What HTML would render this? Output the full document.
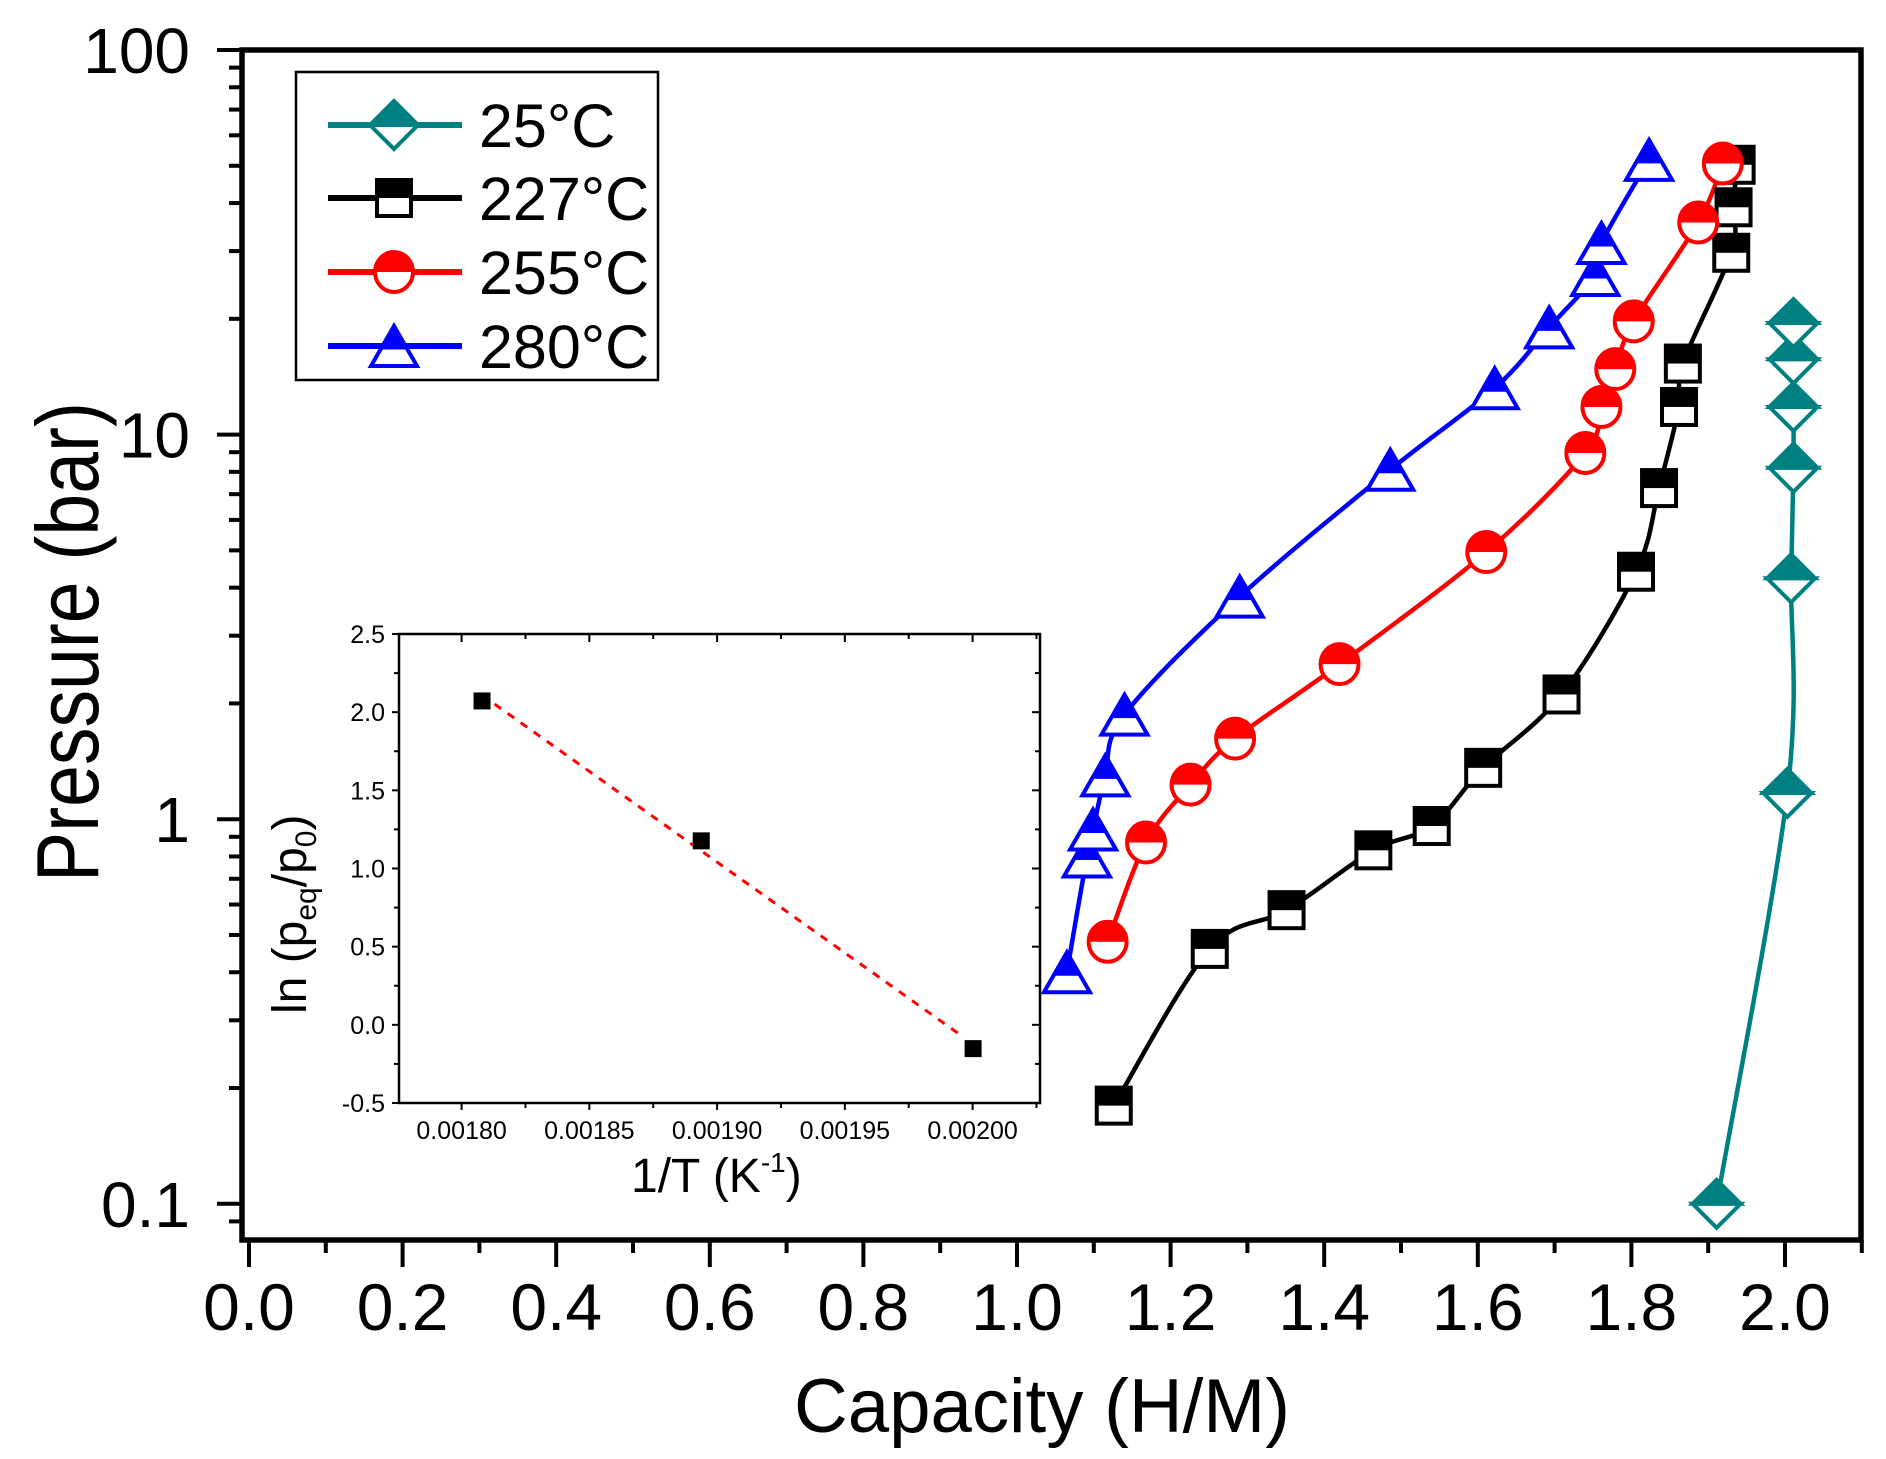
<!DOCTYPE html>
<html><head><meta charset="utf-8"><style>
html,body{margin:0;padding:0;background:#fff;}
svg{display:block;}
text{font-family:"Liberation Sans",Arial,sans-serif;fill:#000;}
</style></head><body>
<svg id="chart" width="1886" height="1459" viewBox="0 0 1886 1459" xmlns="http://www.w3.org/2000/svg">
<rect x="0" y="0" width="1886" height="1459" fill="#fff"/>
<g id="curves"></g>
<g id="markers"></g>
<g id="axes"></g>
<g id="legend"></g>
<g id="inset"></g>
</svg>
<script>
// ---- main chart data ----
const seriesNames = ["25°C","227°C","255°C","280°C"];
const seriesColors = ["#008080","#000000","#ff0000","#0000ff"];
const seriesShapes = ["diamond","square","circle","triangle"];
const x25 = [1.911,2.003,2.008,2.011,2.011,2.011,2.011];
const p25 = [0.10,1.17,4.23,8.2,11.8,15.7,19.5];
const x227 = [1.126,1.251,1.351,1.464,1.540,1.607,1.709,1.806,1.836,1.862,1.867,1.930,1.933,1.937];
const p227 = [0.18,0.46,0.58,0.83,0.96,1.36,2.11,4.4,7.26,11.8,15.3,29.7,39,50.3];
const x255 = [1.118,1.168,1.226,1.284,1.420,1.611,1.740,1.761,1.779,1.803,1.887,1.919];
const p255 = [0.48,0.87,1.23,1.62,2.53,4.95,8.96,11.8,14.8,19.7,35.6,50.7];
const x280 = [1.065,1.091,1.099,1.115,1.140,1.290,1.486,1.622,1.693,1.753,1.761,1.823];
const p280 = [0.40,0.80,0.94,1.30,1.87,3.79,8.1,13.2,19.0,26,31.5,51.8];
const xTicks = [0.0,0.2,0.4,0.6,0.8,1.0,1.2,1.4,1.6,1.8,2.0];
const xTickLabels = ["0.0","0.2","0.4","0.6","0.8","1.0","1.2","1.4","1.6","1.8","2.0"];
const yTicks = [0.1,1,10,100];
const yTickLabels = ["0.1","1","10","100"];
// ---- inset data ----
const invT = [0.0018078,0.0018936,0.0020];
const lnP = [2.075,1.18,-0.149];
const insetXTicks = [0.0018,0.00185,0.0019,0.00195,0.0020];
const insetXLabels = ["0.00180","0.00185","0.00190","0.00195","0.00200"];
const insetYTicks = [-0.5,0.0,0.5,1.0,1.5,2.0,2.5];
const insetYLabels = ["-0.5","0.0","0.5","1.0","1.5","2.0","2.5"];

const NS="http://www.w3.org/2000/svg";
function mk(tag, attrs, parent){const e=document.createElementNS(NS,tag);for(const k in attrs)e.setAttribute(k,attrs[k]);if(parent)parent.appendChild(e);return e;}

const L=242,R=1861,T=50,B=1240;
function sx(v){return 249+768*v;}
function sy(p){return 50+(2-Math.log10(p))*384.6;}

const axes=document.getElementById('axes');
const curves=document.getElementById('curves');
const markers=document.getElementById('markers');

const frame=mk('path',{d:`M${L},${T} H${R} V${B} H${L} Z`,fill:'none',stroke:'#000','stroke-width':5.5},axes);



for(let i=0;i<=21;i++){
  const v=i*0.1; const X=sx(v); const major=(i%2===0);
  const t=mk('line',{x1:X,y1:B,x2:X,y2:B+(major?27:13),stroke:'#000','stroke-width':4},axes);
  
  
}
xTicks.forEach((v,i)=>{
  const tx=mk('text',{x:sx(v),y:1330,'font-size':66,'text-anchor':'middle'},axes);
  tx.textContent=xTickLabels[i];
  
  
});
for(let d=-2;d<=1;d++){
  for(let m=1;m<=9;m++){
    const p=m*Math.pow(10,d); const Y=sy(p);
    if(Y>B||Y<T-1)continue;
    const major=(m===1);
    const t=mk('line',{x1:L,y1:Y,x2:L-(major?25:13),y2:Y,stroke:'#000','stroke-width':4},axes);
    
    
  }
}
const t100=mk('line',{x1:L,y1:sy(100),x2:L-25,y2:sy(100),stroke:'#000','stroke-width':4},axes);


yTicks.forEach((v,i)=>{
  const tx=mk('text',{x:190,y:sy(v)+23,'font-size':64,'text-anchor':'end'},axes);
  tx.textContent=yTickLabels[i];
  
  
});
const xt=mk('text',{x:794,y:1432,'font-size':76,textLength:496,lengthAdjust:'spacingAndGlyphs'},axes);
xt.textContent='Capacity (H/M)';


const yt=mk('text',{x:0,y:0,'font-size':88,textLength:480,lengthAdjust:'spacingAndGlyphs',transform:'translate(98,882) rotate(-90)'},axes);
yt.textContent='Pressure (bar)';



function smooth(pts){
  let d=`M${pts[0][0]},${pts[0][1]}`;
  for(let i=0;i<pts.length-1;i++){
    const p0=pts[Math.max(0,i-1)],p1=pts[i],p2=pts[i+1],p3=pts[Math.min(pts.length-1,i+2)];
    const c1=[p1[0]+(p2[0]-p0[0])/6,p1[1]+(p2[1]-p0[1])/6];
    const c2=[p2[0]-(p3[0]-p1[0])/6,p2[1]-(p3[1]-p1[1])/6];
    d+=` C${c1[0]},${c1[1]} ${c2[0]},${c2[1]} ${p2[0]},${p2[1]}`;
  }
  return d;
}
function marker(shape,cx,cy,color,parent){
  const g=mk('g',{},parent);
  if(shape==='diamond'){
    const w=24,h=24;
    mk('path',{d:`M${cx-w},${cy} L${cx},${cy+h} L${cx+w},${cy} Z`,fill:'#fff',stroke:color,'stroke-width':4},g);
    mk('path',{d:`M${cx-w},${cy} L${cx},${cy-h} L${cx+w},${cy} Z`,fill:color,stroke:color,'stroke-width':4},g);
  }else if(shape==='square'){
    const w=17,h=18;
    mk('rect',{x:cx-w,y:cy-h,width:2*w,height:2*h,fill:'#fff',stroke:color,'stroke-width':4},g);
    mk('rect',{x:cx-w,y:cy-h,width:2*w,height:h,fill:color},g);
  }else if(shape==='circle'){
    const rx=19,ry=20;
    mk('ellipse',{cx:cx,cy:cy,rx:rx,ry:ry,fill:'#fff',stroke:color,'stroke-width':4},g);
    mk('path',{d:`M${cx-rx},${cy} A${rx},${ry} 0 0 1 ${cx+rx},${cy} Z`,fill:color},g);
  }else{
    const w=23,h=20;
    mk('path',{d:`M${cx},${cy-h} L${cx+w},${cy+h} L${cx-w},${cy+h} Z`,fill:'#fff',stroke:color,'stroke-width':4},g);
    mk('path',{d:`M${cx},${cy-h} L${cx+w*0.55},${cy+h*0.1} L${cx-w*0.55},${cy+h*0.1} Z`,fill:color,stroke:color,'stroke-width':3},g);
  }
  return g;
}
const allX=[x25,x227,x255,x280], allP=[p25,p227,p255,p280];
const keys=['25c','227c','255c','280c'];
for(let s=0;s<4;s++){
  const pts=allX[s].map((v,i)=>[sx(v),sy(allP[s][i])]);
  const c=mk('path',{d:smooth(pts),fill:'none',stroke:seriesColors[s],'stroke-width':4.5},curves);
  
  
}
for(let s=0;s<4;s++){
  allX[s].forEach((v,i)=>{
    const m=marker(seriesShapes[s],sx(v),sy(allP[s][i]),seriesColors[s],markers);
    
    
  });
}

const leg=document.getElementById('legend');
const lb=mk('rect',{x:296,y:72,width:362,height:308,fill:'#fff',stroke:'#000','stroke-width':2.5},leg);


const rowY=[125,198,272,346];
for(let s=0;s<4;s++){
  const g=mk('g',{},leg);
  
  
  mk('line',{x1:328,y1:rowY[s],x2:462,y2:rowY[s],stroke:seriesColors[s],'stroke-width':6},g);
  marker(seriesShapes[s],394,rowY[s],seriesColors[s],g);
  const t=mk('text',{x:479,y:rowY[s]+22,'font-size':61},g);
  t.textContent=seriesNames[s];
}

const ins=document.getElementById('inset');
const IL=399,IR=1040,IT=634,IB=1103;
function ix(v){return 461.6+(v-0.0018)/0.0002*511;}
function iy(v){return IB-(v+0.5)/3*(IB-IT);}
mk('rect',{x:IL,y:IT,width:IR-IL,height:IB-IT,fill:'#fff'},ins);
const ib=mk('rect',{x:IL,y:IT,width:IR-IL,height:IB-IT,fill:'none',stroke:'#000','stroke-width':2.5},ins);


for(let i=-2;i<=9;i++){
  const v=0.0018+i*0.000025; const X=ix(v);
  if(X<IL-1||X>IR+1)continue;
  const major=(i%2===0);
  mk('line',{x1:X,y1:IB,x2:X,y2:IB+(major?7:5),stroke:'#000','stroke-width':2},ins);
  mk('line',{x1:X,y1:IT,x2:X,y2:IT+(major?8:5),stroke:'#000','stroke-width':2},ins);
}
for(let i=0;i<=12;i++){
  const v=-0.5+i*0.25; const Y=iy(v); const major=(i%2===0);
  mk('line',{x1:IL,y1:Y,x2:IL-(major?7:5),y2:Y,stroke:'#000','stroke-width':2},ins);
  mk('line',{x1:IR,y1:Y,x2:IR-(major?8:5),y2:Y,stroke:'#000','stroke-width':2},ins);
}
insetXTicks.forEach((v,i)=>{
  const t=mk('text',{x:ix(v),y:1139,'font-size':25,'text-anchor':'middle'},ins);
  t.textContent=insetXLabels[i];
  
  
});
insetYTicks.forEach((v,i)=>{
  const t=mk('text',{x:385,y:iy(v)+9,'font-size':25,'text-anchor':'end'},ins);
  t.textContent=insetYLabels[i];
  
  
});
const n=invT.length;
const mx=invT.reduce((a,b)=>a+b,0)/n, my=lnP.reduce((a,b)=>a+b,0)/n;
let sxy=0,sxx=0; for(let i=0;i<n;i++){sxy+=(invT[i]-mx)*(lnP[i]-my);sxx+=(invT[i]-mx)*(invT[i]-mx);}
const slope=sxy/sxx, icpt=my-slope*mx;
const xa=invT[0], xb=invT[n-1]-0.000005;
const fit=mk('line',{x1:ix(xa),y1:iy(icpt+slope*xa),x2:ix(xb),y2:iy(icpt+slope*xb),stroke:'#ff0000','stroke-width':3,'stroke-dasharray':'8,8'},ins);


invT.forEach((v,i)=>{
  const r=mk('rect',{x:ix(v)-8,y:iy(lnP[i])-8,width:17,height:17,fill:'#000'},ins);
  
  
});
const ixt=mk('text',{x:631,y:1192,'font-size':48},ins);
ixt.innerHTML='1/T  (K<tspan dy="-20" font-size="28">-1</tspan><tspan dy="20">)</tspan>';


const iyt=mk('text',{x:0,y:0,'font-size':48,transform:'translate(306,1014) rotate(-90)'},ins);
iyt.innerHTML='ln (p<tspan dy="10" font-size="30">eq</tspan><tspan dy="-10">/p</tspan><tspan dy="10" font-size="30">0</tspan><tspan dy="-10">)</tspan>';


</script>
</body></html>
